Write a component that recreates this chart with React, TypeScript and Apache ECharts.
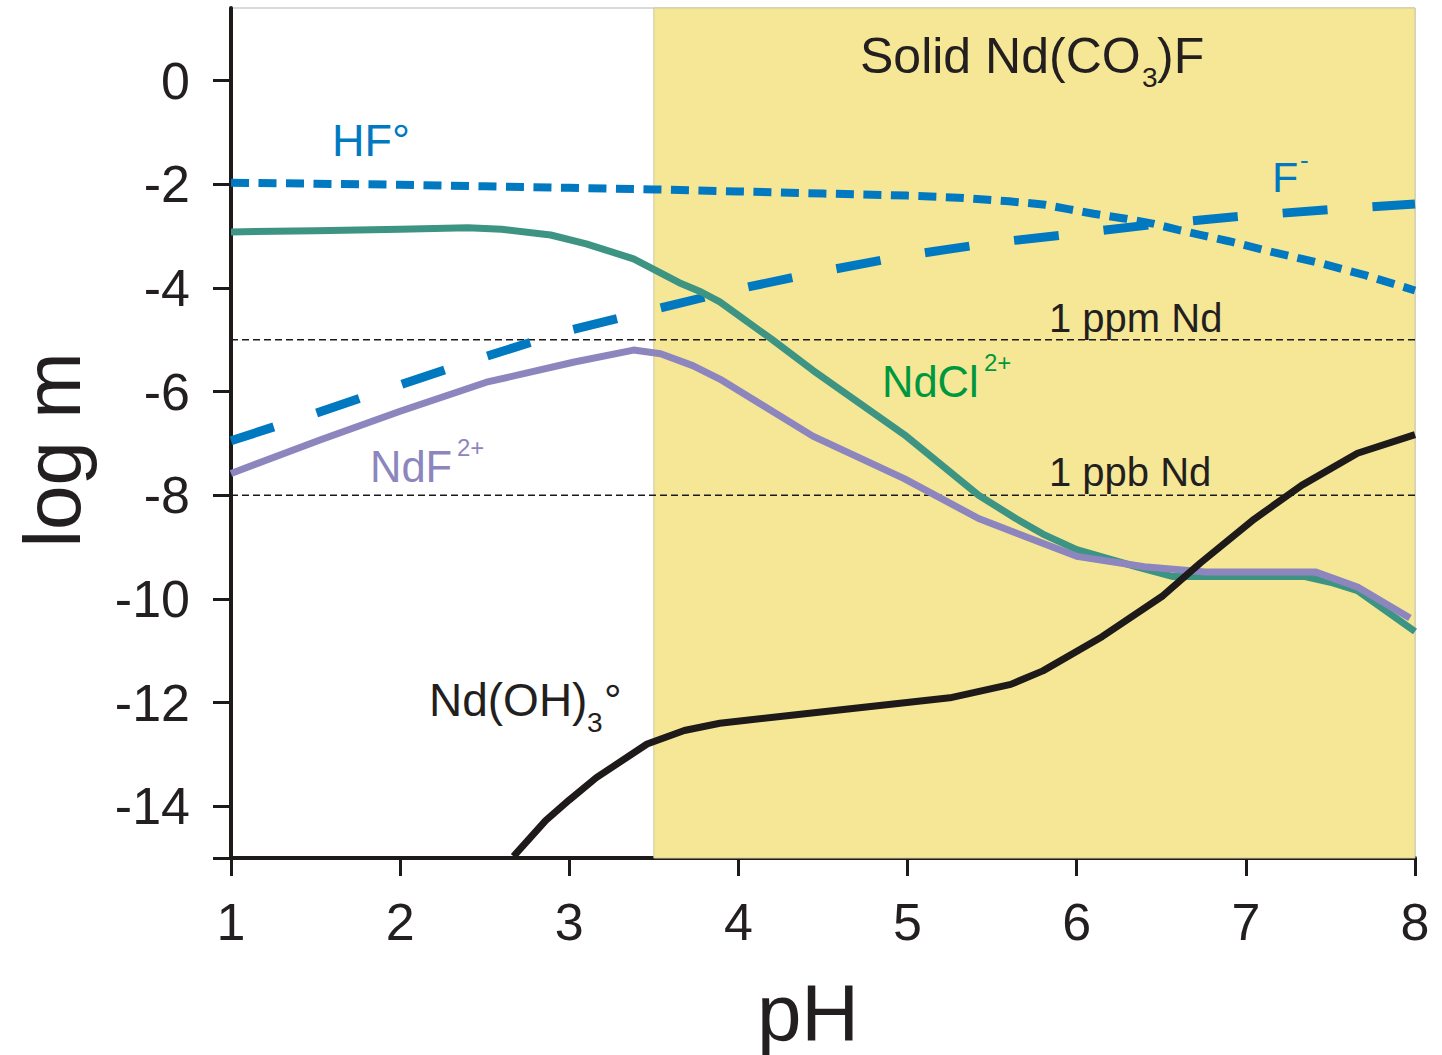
import React, { useEffect, useRef } from "react";
import * as echarts from "echarts";

// ---- axes ----
const PH_MIN = 1;
const PH_MAX = 8;
const LOGM_MIN = -15;
const LOGM_MAX = 1.4;
const LOGM_TICKS = [0, -2, -4, -6, -8, -10, -12, -14];

// ---- regions / reference levels ----
const SOLID_FROM_PH = 3.5;
const SOLID_TO_PH = 8;
const PPM_LEVEL = -5;
const PPB_LEVEL = -8;

// ---- HF° (dotted) ----
const HF_PH = [1, 1.5, 2, 2.5, 3, 3.5, 4, 4.5, 5, 5.3, 5.6, 5.8, 5.95, 6.1, 6.28, 6.45, 6.6, 6.75, 6.9, 7.16, 7.45, 7.71, 8];
const HF_LOGM = [-1.97, -1.99, -2.01, -2.04, -2.07, -2.1, -2.14, -2.18, -2.22, -2.26, -2.33, -2.39, -2.48, -2.57, -2.66, -2.76, -2.88, -2.99, -3.1, -3.31, -3.53, -3.76, -4.05];

// ---- F- (dashed) ----
const F_PH = [1, 1.5, 2, 2.5, 3, 3.5, 4, 4.5, 5, 5.5, 6, 6.5, 7, 7.5, 8];
const F_LOGM = [-6.95, -6.42, -5.87, -5.33, -4.82, -4.42, -4.02, -3.68, -3.37, -3.13, -2.95, -2.76, -2.61, -2.49, -2.38];

// ---- NdCl2+ ----
const NDCL_PH = [1, 1.5, 2, 2.4, 2.6, 2.89, 3.1, 3.38, 3.65, 3.78, 3.89, 4.2, 4.44, 4.98, 5.42, 5.64, 5.8, 6.0, 6.35, 6.57, 6.8, 7.35, 7.5, 7.66, 8];
const NDCL_LOGM = [-2.92, -2.9, -2.87, -2.84, -2.87, -2.98, -3.15, -3.44, -3.9, -4.08, -4.27, -5.0, -5.59, -6.83, -8.0, -8.45, -8.75, -9.05, -9.38, -9.57, -9.57, -9.57, -9.68, -9.84, -10.63];

// ---- NdF2+ ----
const NDF_PH = [1, 1.53, 2.0, 2.51, 3.03, 3.38, 3.54, 3.73, 3.89, 4.44, 4.98, 5.42, 6.0, 6.4, 6.76, 7.41, 7.66, 7.97];
const NDF_LOGM = [-7.58, -6.93, -6.38, -5.82, -5.43, -5.2, -5.27, -5.5, -5.76, -6.86, -7.68, -8.45, -9.18, -9.38, -9.48, -9.48, -9.77, -10.37];

// ---- Nd(OH)3° ----
const NDOH_PH = [2.67, 2.86, 3.0, 3.16, 3.46, 3.68, 3.89, 4.3, 5.25, 5.61, 5.8, 6.15, 6.51, 6.73, 7.05, 7.33, 7.66, 8];
const NDOH_LOGM = [-14.97, -14.28, -13.88, -13.45, -12.8, -12.54, -12.4, -12.25, -11.91, -11.65, -11.39, -10.73, -9.94, -9.31, -8.46, -7.81, -7.19, -6.83];

const FONT = '"Liberation Sans", Arial, Helvetica, sans-serif';
const INK = "#231F20";
const BLUE = "#0079C1";
const TEAL = "#3E9482";
const PURPLE = "#8D86BE";
const GREEN = "#00983F";
const YELLOW = "#F6E796";

const pairs = (xs: number[], ys: number[]) => xs.map((x, i) => [x, ys[i]]);

function txt(text: string, x: number, y: number, size: number, color: string, align = "left", rotation = 0) {
  return {
    type: "text",
    z: 100,
    silent: true,
    x,
    y,
    rotation,
    style: {
      text,
      x: 0,
      y: 0,
      fill: color,
      fontSize: size,
      fontFamily: FONT,
      textAlign: align,
      align,
      textVerticalAlign: "middle",
      verticalAlign: "middle",
    },
  };
}

export default function App() {
  const ref = useRef<HTMLDivElement>(null);
  useEffect(() => {
    if (!ref.current) return;
    const chart = echarts.init(ref.current, null, { renderer: "svg" });
    const lineBase = { type: "line", symbol: "none", smooth: false, clip: true, silent: true };
    const option: any = {
      animation: false,
      backgroundColor: "#ffffff",
      grid: {
        left: 231,
        right: 27,
        top: 8,
        bottom: 197,
        show: true,
        borderColor: "#b5b5b5",
        borderWidth: 1,
        backgroundColor: "transparent",
      },
      xAxis: {
        type: "value",
        min: PH_MIN,
        max: PH_MAX,
        interval: 1,
        axisLine: { show: true, onZero: false, lineStyle: { color: "#1E1A1A", width: 4 } },
        axisTick: { show: true, length: 18, lineStyle: { color: "#1E1A1A", width: 3 } },
        axisLabel: { fontSize: 52, fontFamily: FONT, color: INK, margin: 38 },
        splitLine: { show: false },
      },
      yAxis: {
        type: "value",
        min: LOGM_MIN,
        max: LOGM_MAX,
        axisLine: { show: true, onZero: false, lineStyle: { color: "#1E1A1A", width: 4 } },
        axisTick: {
          show: true,
          length: 18,
          customValues: [...LOGM_TICKS, LOGM_MIN],
          lineStyle: { color: "#1E1A1A", width: 3 },
        },
        axisLabel: {
          fontSize: 52,
          fontFamily: FONT,
          color: INK,
          margin: 41,
          customValues: LOGM_TICKS,
        },
        splitLine: { show: false },
      },
      series: [
        {
          ...lineBase,
          name: "ppm",
          data: [[PH_MIN, PPM_LEVEL], [PH_MAX, PPM_LEVEL]],
          lineStyle: { color: "#1a1a1a", width: 1.5, type: [7, 4] },
          z: 3,
          markArea: {
            silent: true,
            itemStyle: { color: YELLOW, borderColor: "#cfc8a0", borderWidth: 1 },
            data: [[{ xAxis: SOLID_FROM_PH }, { xAxis: SOLID_TO_PH }]],
          },
        },
        {
          ...lineBase,
          name: "ppb",
          data: [[PH_MIN, PPB_LEVEL], [PH_MAX, PPB_LEVEL]],
          lineStyle: { color: "#1a1a1a", width: 1.5, type: [7, 4] },
          z: 3,
        },
        {
          ...lineBase,
          name: "F-",
          data: pairs(F_PH, F_LOGM),
          lineStyle: { color: BLUE, width: 9, type: [45, 45], cap: "butt" },
          z: 4,
        },
        {
          ...lineBase,
          name: "HF",
          data: pairs(HF_PH, HF_LOGM),
          lineStyle: { color: BLUE, width: 8, type: [18, 9.5], cap: "butt" },
          z: 5,
        },
        {
          ...lineBase,
          name: "NdCl2+",
          data: pairs(NDCL_PH, NDCL_LOGM),
          lineStyle: { color: TEAL, width: 7, join: "round" },
          z: 6,
        },
        {
          ...lineBase,
          name: "NdF2+",
          data: pairs(NDF_PH, NDF_LOGM),
          lineStyle: { color: PURPLE, width: 7, join: "round" },
          z: 7,
        },
        {
          ...lineBase,
          name: "Nd(OH)3",
          data: pairs(NDOH_PH, NDOH_LOGM),
          lineStyle: { color: "#1E1A1A", width: 7, join: "round" },
          z: 8,
        },
      ],
      graphic: [
        // axis names
        txt("log m", 52, 450, 80, INK, "center", Math.PI / 2),
        txt("pH", 808, 1012, 80, INK, "center"),
        // region label
        txt("Solid Nd(CO", 860, 56, 50, INK),
        txt("3", 1142, 77, 28, INK),
        txt(")F", 1157, 56, 50, INK),
        // species labels
        txt("HF°", 332, 140, 45, BLUE),
        txt("F", 1272, 177, 43, BLUE),
        txt("-", 1300, 160, 26, BLUE),
        txt("NdCl", 882, 382, 43.5, GREEN),
        txt("2+", 984, 362, 24, GREEN),
        txt("NdF", 370, 467, 43.5, PURPLE),
        txt("2+", 457, 447, 24, PURPLE),
        txt("Nd(OH)", 429, 700, 46, INK),
        txt("3", 587, 722, 28, INK),
        txt("°", 604, 700, 44, INK),
        txt("1 ppm Nd", 1049, 318, 40, INK),
        txt("1 ppb Nd", 1049, 472, 40, INK),
      ],
    };
    chart.setOption(option);
    return () => chart.dispose();
  }, []);
  return (
    <div
      ref={ref}
      style={{ position: "fixed", left: 0, top: 0, width: 1442, height: 1055, background: "#fff" }}
    />
  );
}
